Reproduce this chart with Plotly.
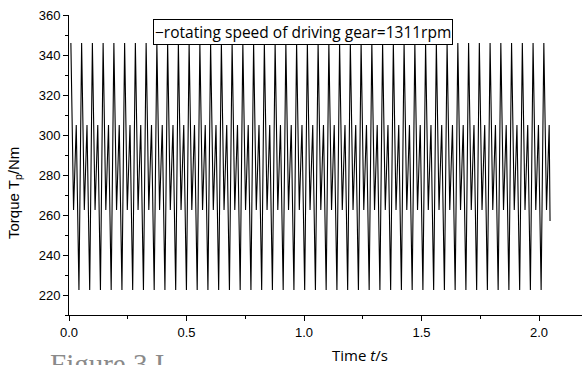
import plotly.graph_objects as go

# Sample times (s) and torque values (Nm)
time_s = [
    0.0080, 0.0194, 0.0309, 0.0423, 0.0537, 0.0652, 0.0766, 0.0881,
    0.0995, 0.1109, 0.1224, 0.1338, 0.1452, 0.1567, 0.1681, 0.1795,
    0.1910, 0.2024, 0.2138, 0.2253, 0.2367, 0.2481, 0.2596, 0.2710,
    0.2824, 0.2939, 0.3053, 0.3168, 0.3282, 0.3396, 0.3511, 0.3625,
    0.3739, 0.3854, 0.3968, 0.4082, 0.4197, 0.4311, 0.4425, 0.4540,
    0.4654, 0.4768, 0.4883, 0.4997, 0.5111, 0.5226, 0.5340, 0.5455,
    0.5569, 0.5683, 0.5798, 0.5912, 0.6026, 0.6141, 0.6255, 0.6369,
    0.6484, 0.6598, 0.6712, 0.6827, 0.6941, 0.7055, 0.7170, 0.7284,
    0.7398, 0.7513, 0.7627, 0.7742, 0.7856, 0.7970, 0.8085, 0.8199,
    0.8313, 0.8428, 0.8542, 0.8656, 0.8771, 0.8885, 0.8999, 0.9114,
    0.9228, 0.9342, 0.9457, 0.9571, 0.9685, 0.9800, 0.9914, 1.0029,
    1.0143, 1.0257, 1.0372, 1.0486, 1.0600, 1.0715, 1.0829, 1.0943,
    1.1058, 1.1172, 1.1286, 1.1401, 1.1515, 1.1629, 1.1744, 1.1858,
    1.1972, 1.2087, 1.2201, 1.2316, 1.2430, 1.2544, 1.2659, 1.2773,
    1.2887, 1.3002, 1.3116, 1.3230, 1.3345, 1.3459, 1.3573, 1.3688,
    1.3802, 1.3916, 1.4031, 1.4145, 1.4259, 1.4374, 1.4488, 1.4603,
    1.4717, 1.4831, 1.4946, 1.5060, 1.5174, 1.5289, 1.5403, 1.5517,
    1.5632, 1.5746, 1.5860, 1.5975, 1.6089, 1.6203, 1.6318, 1.6432,
    1.6546, 1.6661, 1.6775, 1.6890, 1.7004, 1.7118, 1.7233, 1.7347,
    1.7461, 1.7576, 1.7690, 1.7804, 1.7919, 1.8033, 1.8147, 1.8262,
    1.8376, 1.8490, 1.8605, 1.8719, 1.8833, 1.8948, 1.9062, 1.9177,
    1.9291, 1.9405, 1.9520, 1.9634, 1.9748, 1.9863, 1.9977, 2.0091,
    2.0206, 2.0320, 2.0434, 2.0470,
]

torque_nm = [
    346, 262.5, 305, 222.5, 346, 262.5, 305, 222.5,
    346, 262.5, 305, 222.5, 346, 262.5, 305, 222.5,
    346, 262.5, 305, 222.5, 346, 262.5, 305, 222.5,
    346, 262.5, 305, 222.5, 346, 262.5, 305, 222.5,
    346, 262.5, 305, 222.5, 346, 262.5, 305, 222.5,
    346, 262.5, 305, 222.5, 346, 262.5, 305, 222.5,
    346, 262.5, 305, 222.5, 346, 262.5, 305, 222.5,
    346, 262.5, 305, 222.5, 346, 262.5, 305, 222.5,
    346, 262.5, 305, 222.5, 346, 262.5, 305, 222.5,
    346, 262.5, 305, 222.5, 346, 262.5, 305, 222.5,
    346, 262.5, 305, 222.5, 346, 262.5, 305, 222.5,
    346, 262.5, 305, 222.5, 346, 262.5, 305, 222.5,
    346, 262.5, 305, 222.5, 346, 262.5, 305, 222.5,
    346, 262.5, 305, 222.5, 346, 262.5, 305, 222.5,
    346, 262.5, 305, 222.5, 346, 262.5, 305, 222.5,
    346, 262.5, 305, 222.5, 346, 262.5, 305, 222.5,
    346, 262.5, 305, 222.5, 346, 262.5, 305, 222.5,
    346, 262.5, 305, 222.5, 346, 262.5, 305, 222.5,
    346, 262.5, 305, 222.5, 346, 262.5, 305, 222.5,
    346, 262.5, 305, 222.5, 346, 262.5, 305, 222.5,
    346, 262.5, 305, 222.5, 346, 262.5, 305, 222.5,
    346, 262.5, 305, 222.5, 346, 262.5, 305, 222.5,
    346, 262.5, 305, 257,
]

x_ticks = [0.0, 0.5, 1.0, 1.5, 2.0]
x_tick_labels = ["0.0", "0.5", "1.0", "1.5", "2.0"]
y_ticks = [220, 240, 260, 280, 300, 320, 340, 360]

legend_text = "\u2212rotating speed of driving gear=1311rpm"
x_title = "Time <i>t</i>/s"
y_title = "Torque T<sub>p</sub>/Nm"
caption_text = "Figure 3 I"

W, H = 582, 365
L, R, T, B = 69, 0, 15, 50
pw, ph = W - L - R, H - T - B


def px(xp):
    return (xp - L) / pw


def py(yp):
    return (H - B - yp) / ph


fig = go.Figure()
fig.add_trace(go.Scatter(
    x=time_s, y=torque_nm, mode="lines",
    line=dict(color="black", width=1.1),
    showlegend=False, hoverinfo="skip",
))

tick_font = dict(family="Liberation Sans, Arial, sans-serif", size=13, color="black")

fig.update_xaxes(
    range=[0, 2.183], showline=True, linecolor="black", linewidth=1,
    ticks="outside", ticklen=5, tickwidth=1, tickcolor="black",
    tickvals=x_ticks, ticktext=x_tick_labels, tickfont=tick_font,
    minor=dict(ticks="outside", ticklen=3, tickwidth=1, tickcolor="black", dtick=0.25),
    showgrid=False, zeroline=False, mirror=False,
)
fig.update_yaxes(
    range=[210, 360], showline=True, linecolor="black", linewidth=1,
    ticks="outside", ticklen=5, tickwidth=1, tickcolor="black",
    tickvals=y_ticks, tickfont=tick_font,
    minor=dict(ticks="outside", ticklen=3, tickwidth=1, tickcolor="black", dtick=10),
    showgrid=False, zeroline=False, mirror=False,
)

annotations = [
    dict(text=y_title, xref="paper", yref="paper", x=px(15), y=py(193),
         xanchor="center", yanchor="middle", textangle=-90, showarrow=False,
         font=dict(family="Liberation Sans, Arial, sans-serif", size=15, color="black")),
    dict(text=x_title, xref="paper", yref="paper", x=px(360), y=py(355),
         xanchor="center", yanchor="middle", showarrow=False,
         font=dict(family="Open Sans, sans-serif", size=15, color="black")),
    dict(text=legend_text, xref="paper", yref="paper", x=px(153), y=py(19),
         xanchor="left", yanchor="top", showarrow=False, align="left",
         bordercolor="black", borderwidth=1, borderpad=1, bgcolor="white",
         font=dict(family="Open Sans, sans-serif", size=15.5, color="black")),
    dict(text=caption_text, xref="paper", yref="paper", x=px(48), y=py(346),
         xanchor="left", yanchor="top", showarrow=False,
         font=dict(family="Liberation Serif, Times New Roman, serif", size=29, color="#8a8a8a")),
]

fig.update_layout(
    width=W, height=H,
    margin=dict(l=L, r=R, t=T, b=B, pad=0),
    paper_bgcolor="white", plot_bgcolor="white",
    annotations=annotations,
    showlegend=False,
)

fig.write_html("out.html", config={"displayModeBar": False})
